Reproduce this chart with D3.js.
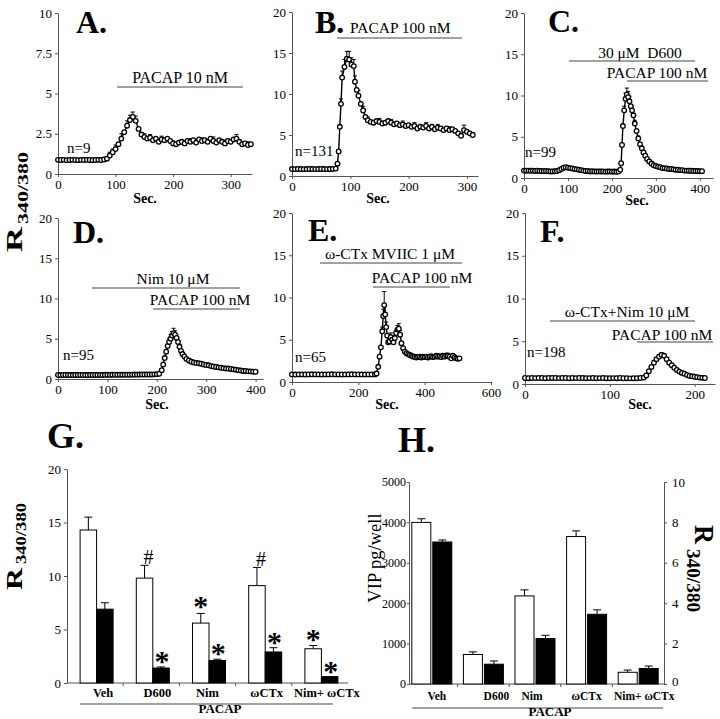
<!DOCTYPE html>
<html><head><meta charset="utf-8">
<script src="https://cdn.jsdelivr.net/npm/d3@7"></script>
<style>body{margin:0;background:#fff}svg{display:block}text{font-family:"Liberation Serif","Times New Roman",serif}</style>
</head><body><svg id="c" width="720" height="719"></svg>
<script>
// ---------- Panel A: PACAP 10 nM ----------
const tA = [0,5,10,15,20,25,30,35,40,45,50,55,60,65,70,75,80,85,90,95,100,105,110,115,120,125,130,135,140,145,150,155,160,165,170,175,180,185,190,195,200,205,210,215,220,225,230,235,240,245,250,255,260,265,270,275,280,285,290,295,300,305,310,315,320,325,330,335];
const vA = [0.88,0.87,0.88,0.86,0.87,0.88,0.87,0.86,0.88,0.87,0.88,0.87,0.86,0.87,0.88,0.87,0.9,
  0.95,1.15,1.35,1.55,1.85,2.2,2.6,3.0,3.35,3.55,3.3,2.8,2.45,2.3,2.2,2.25,2.1,2.2,2.0,2.15,2.1,2.2,2.05,
  1.9,1.85,1.95,2.0,1.9,2.05,2.0,2.1,1.95,2.15,2.05,2.1,2.0,2.2,2.05,1.95,2.1,2.0,1.9,2.05,2.0,2.15,2.2,2.0,1.85,1.9,1.8,1.85];
const errA = [[90,0.2],[95,0.2],[100,0.25],[110,0.3],[120,0.3],[125,0.3],[130,0.3],[135,0.3],[150,0.2],[160,0.2],[180,0.2],[200,0.15],[230,0.2],[250,0.2],[270,0.25],[290,0.2],[310,0.25],[330,0.2]];

// ---------- Panel B: PACAP 100 nM ----------
const tB = [0,5,10,15,20,25,30,35,40,45,50,55,60,65,70,
  75,78,80,82,84,86,90,94,98,102,106,108,111,114,118,122,126,130,
  135,140,145,150,155,160,165,170,175,180,185,190,195,200,205,210,215,220,225,230,235,240,245,250,255,260,265,270,275,280,285,290,295,300,305,310];
const vB = [0.85,0.84,0.86,0.85,0.84,0.85,0.86,0.85,0.84,0.85,0.86,0.85,0.84,0.85,0.86,
  0.9,1.5,3.0,6.0,8.8,12.0,13.3,14.3,14.2,13.6,13.4,11.5,10.5,9.8,8.8,8.0,7.2,6.8,
  6.6,6.5,6.7,6.6,6.4,6.5,6.7,6.5,6.3,6.4,6.2,6.3,6.1,6.2,6.0,6.1,5.8,6.0,5.9,6.1,5.8,6.0,5.7,5.9,5.8,5.6,5.8,5.6,5.7,5.5,5.2,4.9,5.6,5.4,5.2,5.0];
const errB = [[84,0.6],[86,0.8],[90,0.9],[94,0.9],[98,1.0],[102,0.8],[106,0.8],[108,0.7],[114,0.6],[122,0.5],[130,0.4],[150,0.4],[170,0.4],[190,0.4],[210,0.4],[230,0.4],[250,0.4],[270,0.4],[295,0.6],[310,0.3]];

// ---------- Panel C: D600 + PACAP ----------
const tC = [0,5,10,15,20,25,30,35,40,45,50,55,60,65,70,75,80,85,90,95,100,105,110,115,120,125,130,135,140,145,150,155,160,165,170,175,180,185,190,195,200,205,210,215,
  219,221,223,225,228,231,234,237,240,243,246,249,252,256,260,264,268,272,276,280,
  285,290,295,300,305,310,315,320,325,330,335,340,345,350,355,360,365,370,375,380,385,390,395,400,405];
const vC = [0.9,0.88,0.9,0.87,0.9,0.85,0.88,0.86,0.85,0.83,0.85,0.82,0.8,0.8,0.82,0.85,0.95,1.1,1.25,1.3,1.25,1.2,1.15,1.1,1.05,1.0,0.95,0.9,0.85,0.85,0.8,0.82,0.8,0.78,0.8,0.78,0.8,0.77,0.78,0.8,0.77,0.78,0.75,0.78,
  1.0,1.8,4.0,6.3,8.2,9.6,10.1,9.8,9.3,8.7,8.2,7.6,6.6,5.7,4.8,4.1,3.6,3.1,2.7,2.3,
  2.0,1.75,1.55,1.45,1.35,1.3,1.2,1.2,1.15,1.1,1.1,1.05,1.0,1.0,0.95,0.95,0.9,0.9,0.88,0.88,0.85,0.85,0.85,0.83,0.83];
const errC = [[228,0.5],[231,0.7],[234,0.8],[237,0.7],[240,0.6],[246,0.5],[252,0.4],[260,0.3]];

// ---------- Panel D: Nim + PACAP ----------
const tD = [0,5,10,15,20,25,30,35,40,45,50,55,60,65,70,75,80,85,90,95,100,105,110,115,120,125,130,135,140,145,150,155,160,165,170,175,180,185,190,195,200,205,
  210,213,216,219,222,225,228,231,234,237,240,243,246,249,252,256,260,265,
  270,275,280,285,290,295,300,305,310,315,320,325,330,335,340,345,350,355,360,365,370,375,380,385,390,395,400];
const vD = [0.5,0.49,0.5,0.5,0.51,0.5,0.49,0.5,0.5,0.51,0.5,0.5,0.49,0.5,0.51,0.5,0.5,0.51,0.5,0.52,0.52,0.51,0.52,0.53,0.52,0.53,0.52,0.53,0.54,0.53,0.54,0.55,0.54,0.55,0.56,0.55,0.56,0.57,0.56,0.58,0.6,0.65,
  1.1,1.8,2.6,3.4,4.1,4.6,5.0,5.4,5.7,5.5,5.1,4.6,4.0,3.5,3.1,2.8,2.5,2.3,
  2.15,2.05,2.0,1.95,1.9,1.8,1.75,1.7,1.6,1.55,1.5,1.45,1.4,1.35,1.3,1.3,1.25,1.2,1.15,1.1,1.05,1.0,1.0,0.95,0.95,0.9,0.9];
const errD = [[225,0.4],[228,0.5],[231,0.5],[234,0.6],[237,0.5],[240,0.4],[246,0.3]];

// ---------- Panel E: ω-CTx MVIIC + PACAP ----------
const tE = [0,10,20,30,40,50,60,70,80,90,100,110,120,130,140,150,160,170,180,190,200,210,220,230,240,250,
  255,260,264,268,272,275,278,281,284,287,290,294,298,302,306,310,314,318,322,326,330,335,
  340,345,350,355,360,365,370,375,380,385,390,395,400,405,410,415,420,425,430,435,440,445,450,455,460,465,470,475,480,485,490,495,500,505];
const vE = [0.9,0.88,0.9,0.9,0.89,0.9,0.91,0.9,0.9,0.89,0.9,0.9,0.91,0.9,0.9,0.89,0.9,0.9,0.91,0.9,0.9,0.9,0.89,0.9,0.9,0.9,
  1.0,1.8,3.0,4.1,6.0,7.8,9.1,8.0,6.5,5.5,4.7,4.8,5.3,5.0,4.7,5.2,5.8,6.2,6.3,5.6,4.6,4.0,
  3.6,3.4,3.3,3.2,3.1,3.0,3.0,2.9,2.95,3.0,2.9,3.0,2.95,3.0,2.9,3.0,3.05,2.95,3.0,3.1,3.0,3.05,2.95,3.1,3.0,3.15,3.1,3.0,2.8,3.1,2.9,2.8,2.75,2.8];
const errE = [[272,0.5],[275,0.8],[278,1.6],[281,1.0],[284,0.6],[298,0.5],[318,0.5],[322,0.6],[326,0.5],[400,0.3],[440,0.3],[470,0.3],[490,0.3]];

// ---------- Panel F: ω-CTx + Nim + PACAP ----------
const tF = [0,4,8,12,16,20,24,28,32,36,40,44,48,52,56,60,64,68,72,76,80,84,88,92,96,100,104,108,112,116,120,124,128,132,136,
  140,143,146,149,152,155,158,161,164,167,170,173,176,179,182,185,188,191,194,197,200,203,206,209,212];
const vF = [0.7,0.68,0.7,0.69,0.7,0.7,0.68,0.7,0.71,0.7,0.69,0.7,0.7,0.68,0.7,0.69,0.7,0.7,0.68,0.69,0.7,0.68,0.69,0.7,0.68,0.67,0.69,0.68,0.7,0.67,0.68,0.66,0.67,0.68,0.7,
  0.75,1.0,1.5,2.0,2.5,2.9,3.2,3.4,3.3,2.9,2.5,2.2,1.9,1.65,1.45,1.3,1.2,1.05,0.95,0.9,0.85,0.8,0.75,0.72,0.7];
const errF = [[158,0.2],[161,0.25],[164,0.2]];

// ---------- Panels G & H: bar charts ----------
const groups = ["Veh","D600","Nim","ωCTx","Nim+ ωCTx"];
const gPeak = [14.3, 9.8, 5.6, 9.1, 3.2];
const gPeakErr = [1.2, 1.2, 0.9, 1.7, 0.3];
const gPlateau = [6.9, 1.4, 2.1, 2.9, 0.6];
const gPlateauErr = [0.6, 0.1, 0.12, 0.4, 0];
const gMarksWhite = ["", "#", "*", "#", "*"];
const gMarksBlack = ["", "*", "*", "*", "*"];
const hVIP = [4000, 730, 2180, 3650, 290];
const hVIPErr = [90, 65, 150, 140, 55];
const hR = [7.03, 0.98, 2.25, 3.45, 0.77];
const hRErr = [0.1, 0.16, 0.16, 0.22, 0.12];

// layout-only label nudges (px) for group labels
const gLabelNudge = [8, 6, 0, 3, 7];
const hLabelNudge = [5, 13, -3, 0, 6];

const svg = d3.select("#c");
const AX = "#555";

function styleAxis(g, fs) {
  g.selectAll("path,line").attr("stroke", AX).attr("stroke-width", 1);
  g.selectAll("text").attr("font-family", '"Liberation Serif","Times New Roman",serif').attr("font-size", fs || 13).attr("fill", "#000");
}

function txt(x, y, s, o) {
  o = o || {};
  return svg.append("text").attr("x", x).attr("y", y).text(s)
    .attr("font-size", o.fs || 15).attr("font-weight", o.bold ? "bold" : null)
    .attr("text-anchor", o.anchor || "start").attr("fill", "#000");
}
function hline(x1, x2, y) {
  svg.append("line").attr("x1", x1).attr("x2", x2).attr("y1", y).attr("y2", y).attr("stroke", "#444").attr("stroke-width", 1);
}

function tsPanel(p) {
  const x = d3.scaleLinear().domain([0, p.xMax]).range([p.left, p.right]);
  const y = d3.scaleLinear().domain([0, p.yMax]).range([p.bottom, p.top]);
  const g = svg.append("g");
  const gx = g.append("g").attr("transform", `translate(0,${p.bottom})`)
    .call(d3.axisBottom(x).tickValues(p.xTicks).tickSize(3).tickSizeOuter(0).tickFormat(d => d));
  styleAxis(gx);
  const gy = g.append("g").attr("transform", `translate(${p.left},0)`)
    .call(d3.axisLeft(y).tickValues(p.yTicks).tickSize(3).tickSizeOuter(0).tickFormat(d => d));
  styleAxis(gy);
  const pts = p.t.map((t, i) => [t, p.v[i]]);
  g.append("path").datum(pts)
    .attr("d", d3.line().x(d => x(d[0])).y(d => y(d[1])))
    .attr("fill", "none").attr("stroke", "#000").attr("stroke-width", 1.4);
  const eb = g.append("g").attr("stroke", "#000").attr("stroke-width", 1);
  p.err.forEach(([t, e]) => {
    const i = p.t.indexOf(t); if (i < 0) return;
    const v = p.v[i], cx = x(t);
    eb.append("line").attr("x1", cx).attr("x2", cx).attr("y1", y(v)).attr("y2", y(v + e));
    eb.append("line").attr("x1", cx - 2).attr("x2", cx + 2).attr("y1", y(v + e)).attr("y2", y(v + e));
  });
  g.append("g").selectAll("circle").data(pts).join("circle")
    .attr("cx", d => x(d[0])).attr("cy", d => y(d[1])).attr("r", 2.3)
    .attr("fill", "#fff").attr("stroke", "#000").attr("stroke-width", 1.3);
}

// Top row
tsPanel({left:58, right:252, top:13, bottom:174, xMax:337, yMax:10, xTicks:[0,100,200,300], yTicks:[0,2.5,5,7.5,10], t:tA, v:vA, err:errA});
tsPanel({left:292, right:478, top:12, bottom:176, xMax:319, yMax:20, xTicks:[0,100,200,300], yTicks:[0,5,10,15,20], t:tB, v:vB, err:errB});
tsPanel({left:524, right:713, top:13, bottom:178, xMax:430, yMax:20, xTicks:[0,100,200,300,400], yTicks:[0,5,10,15,20], t:tC, v:vC, err:errC});
// Middle row
tsPanel({left:58, right:263, top:218, bottom:379, xMax:415, yMax:20, xTicks:[0,100,200,300,400], yTicks:[0,5,10,15,20], t:tD, v:vD, err:errD});
tsPanel({left:292, right:491, top:213, bottom:382, xMax:600, yMax:20, xTicks:[0,200,400,600], yTicks:[0,5,10,15,20], t:tE, v:vE, err:errE});
tsPanel({left:525, right:715, top:213, bottom:384, xMax:224, yMax:20, xTicks:[0,100,200], yTicks:[0,5,10,15,20], t:tF, v:vF, err:errF});

// Panel letters
[["A.",76,33],["B.",315,33],["C.",548,32],["D.",73,243],["E.",308,241],["F.",540,242]].forEach(d => txt(d[1], d[2], d[0], {fs:32, bold:true}));
txt(47, 448, "G.", {fs:36, bold:true});
txt(398, 452, "H.", {fs:36, bold:true});

// n labels
[["n=9",67,153],["n=131",295,156],["n=99",525,157],["n=95",63,360],["n=65",295,362],["n=198",527,357]].forEach(d => txt(d[1], d[2], d[0], {fs:15}));

// Sec. labels
[[145,203],[378,203],[637,205],[157,409],[387,409],[640,409]].forEach(d => txt(d[0], d[1], "Sec.", {fs:14, bold:true, anchor:"middle"}));

// Treatment annotations
txt(180, 83, "PACAP 10 nM", {fs:16, anchor:"middle"}); hline(117, 243, 87);
txt(350, 33, "PACAP 100 nM", {fs:15.5}); hline(337, 462, 38);
txt(640, 58, "30 μM\u00a0 D600", {fs:15.5, anchor:"middle"}); hline(569, 695, 61);
txt(657, 78, "PACAP 100 nM", {fs:15.5, anchor:"middle"}); hline(627, 708, 81);
txt(173, 284, "Nim 10 μM", {fs:15.5, anchor:"middle"}); hline(92, 240, 288);
txt(200, 305, "PACAP 100 nM", {fs:15.5, anchor:"middle"}); hline(153, 240, 309);
txt(390, 259, "ω-CTx MVIIC 1 μM", {fs:15.5, anchor:"middle"}); hline(320, 462, 263);
txt(422, 283, "PACAP 100 nM", {fs:15.5, anchor:"middle"}); hline(373, 450, 287);
txt(627, 317, "ω-CTx+Nim 10 μM", {fs:15.5, anchor:"middle"}); hline(550, 695, 321);
txt(662, 340, "PACAP 100 nM", {fs:15.5, anchor:"middle"}); hline(637, 713, 342);

// Rotated labels
function rot(x, y, angle, s, fs, len, bold, anchor) {
  const t = svg.append("text").attr("transform", `translate(${x},${y}) rotate(${angle})`)
    .attr("font-size", fs).attr("font-weight", bold ? "bold" : null).attr("fill", "#000")
    .attr("text-anchor", anchor || "start").text(s);
  if (len) t.attr("textLength", len).attr("lengthAdjust", "spacingAndGlyphs");
  return t;
}
rot(22, 252, -90, "R", 24, 25, true);
rot(28, 224, -90, "340/380", 15, 72, true);
rot(22, 590, -90, "R", 23, 22, true);
rot(26, 564, -90, "340/380", 14, 61, true);
rot(695, 525, 90, "R", 27, 19, true);
rot(687, 549, 90, "340/380", 19, 63, true);
rot(381, 558, -90, "VIP pg/well", 18.5, null, false, "middle");

// ---------- Panel G ----------
(function(){
  const x = d3.scaleBand().domain(groups).range([67, 348]);
  const y = d3.scaleLinear().domain([0, 20]).range([683, 469]);
  const bw = 16.5, off = 1.5;
  const gy = svg.append("g").attr("transform", "translate(67,0)")
    .call(d3.axisLeft(y).tickValues([0,5,10,15,20]).tickSize(3).tickSizeOuter(0));
  styleAxis(gy);
  svg.append("line").attr("x1", 67).attr("x2", 348).attr("y1", 683).attr("y2", 683).attr("stroke", AX);
  groups.slice(1).forEach(g => svg.append("line").attr("x1", x(g)).attr("x2", x(g)).attr("y1", 683).attr("y2", 686).attr("stroke", AX));
  groups.forEach((g, i) => {
    const xw = x(g) + x.bandwidth() / 2 - bw + off, xb = xw + bw;
    [[xw, gPeak[i], gPeakErr[i]], [xb, gPlateau[i], gPlateauErr[i]]].forEach(([bx, v, e]) => {
      if (!e) return;
      const cx = bx + bw / 2;
      svg.append("line").attr("x1", cx).attr("x2", cx).attr("y1", y(v)).attr("y2", y(v + e)).attr("stroke", "#000");
      svg.append("line").attr("x1", cx - 4).attr("x2", cx + 4).attr("y1", y(v + e)).attr("y2", y(v + e)).attr("stroke", "#000");
    });
    svg.append("rect").attr("x", xw).attr("y", y(gPeak[i])).attr("width", bw).attr("height", y(0) - y(gPeak[i]))
      .attr("fill", "#fff").attr("stroke", "#000").attr("stroke-width", 1);
    svg.append("rect").attr("x", xb).attr("y", y(gPlateau[i])).attr("width", bw).attr("height", y(0) - y(gPlateau[i]))
      .attr("fill", "#000").attr("stroke", "#000").attr("stroke-width", 1);
    const mW = gMarksWhite[i], mB = gMarksBlack[i];
    if (mW) {
      const top = y(gPeak[i] + gPeakErr[i]);
      if (mW === "#") txt(xw + bw / 2 + 4, top - 1, "#", {fs:20, anchor:"middle"});
      else txt(xw + bw / 2, top + 3, "*", {fs:30, bold:true, anchor:"middle"});
    }
    if (mB) {
      const top = y(gPlateau[i] + gPlateauErr[i]);
      txt(xb + bw / 2 + 1, top + 4, "*", {fs:30, bold:true, anchor:"middle"});
    }
    txt(x(g) + x.bandwidth() / 2 + gLabelNudge[i], 697, g, {fs:12.5, bold:true, anchor:"middle"});
  });
  hline(80, 333, 704);
  txt(220, 713, "PACAP", {fs:13, bold:true, anchor:"middle"});
})();

// ---------- Panel H ----------
(function(){
  const x = d3.scaleBand().domain(groups).range([406, 664]);
  const yL = d3.scaleLinear().domain([0, 5000]).range([684, 482]);
  const yR = d3.scaleLinear().domain([0, 10]).range([684, 482]);
  const bw = 19, gap = 2;
  const gl = svg.append("g").attr("transform", "translate(409,0)")
    .call(d3.axisLeft(yL).tickValues([0,1000,2000,3000,4000,5000]).tickSize(2).tickSizeOuter(0).tickFormat(d => d));
  styleAxis(gl, 12);
  gl.selectAll("text").attr("x", -3);
  const gr = svg.append("g").attr("transform", "translate(664,0)")
    .call(d3.axisRight(yR).tickValues([0,2,4,6,8,10]).tickSize(3).tickSizeOuter(0));
  styleAxis(gr);
  gr.selectAll("text").attr("x", 8);
  gr.selectAll(".tick").filter(d => d === 0).select("text").attr("dy", "0.1em");
  svg.append("line").attr("x1", 409).attr("x2", 664).attr("y1", 684).attr("y2", 684).attr("stroke", AX);
  groups.slice(1).forEach(g => svg.append("line").attr("x1", x(g)).attr("x2", x(g)).attr("y1", 684).attr("y2", 687).attr("stroke", AX));
  groups.forEach((g, i) => {
    const xw = x(g) + x.bandwidth() / 2 - bw - gap / 2, xb = xw + bw + gap;
    [[xw, yL(hVIP[i]), yL(hVIP[i] + hVIPErr[i])], [xb, yR(hR[i]), yR(hR[i] + hRErr[i])]].forEach(([bx, y0, y1]) => {
      const cx = bx + bw / 2;
      svg.append("line").attr("x1", cx).attr("x2", cx).attr("y1", y0).attr("y2", y1).attr("stroke", "#000");
      svg.append("line").attr("x1", cx - 4).attr("x2", cx + 4).attr("y1", y1).attr("y2", y1).attr("stroke", "#000");
    });
    svg.append("rect").attr("x", xw).attr("y", yL(hVIP[i])).attr("width", bw).attr("height", yL(0) - yL(hVIP[i]))
      .attr("fill", "#fff").attr("stroke", "#000").attr("stroke-width", 1);
    svg.append("rect").attr("x", xb).attr("y", yR(hR[i])).attr("width", bw).attr("height", yR(0) - yR(hR[i]))
      .attr("fill", "#000").attr("stroke", "#000").attr("stroke-width", 1);
    txt(x(g) + x.bandwidth() / 2 + hLabelNudge[i], 700, g, {fs:11.5, bold:true, anchor:"middle"});
  });
  hline(412, 663, 708);
  txt(550, 716, "PACAP", {fs:13, bold:true, anchor:"middle"});
})();
</script></body></html>
